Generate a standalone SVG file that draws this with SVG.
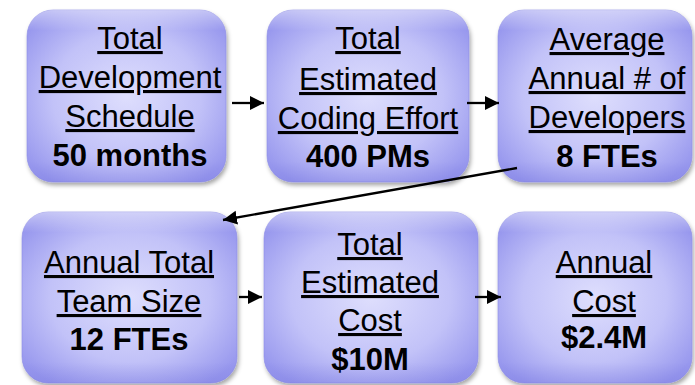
<svg xmlns="http://www.w3.org/2000/svg" width="695" height="385" viewBox="0 0 695 385">
<defs>
<radialGradient id="fill" cx="0.5" cy="0.5" r="0.62">
<stop offset="0" stop-color="#dedefd"/>
<stop offset="0.6" stop-color="#c2c2f8"/>
<stop offset="1" stop-color="#9898ee"/>
</radialGradient>
<linearGradient id="hl" x1="0" y1="0" x2="0" y2="1">
<stop offset="0" stop-color="#ffffff" stop-opacity="0.45"/>
<stop offset="0.12" stop-color="#ffffff" stop-opacity="0"/>
<stop offset="0.88" stop-color="#5a5ad0" stop-opacity="0"/>
<stop offset="1" stop-color="#5a5ad0" stop-opacity="0.18"/>
</linearGradient>
<filter id="sh" x="-10%" y="-10%" width="125%" height="125%">
<feDropShadow dx="1.5" dy="3" stdDeviation="2" flood-color="#000" flood-opacity="0.35"/>
</filter>
<marker id="ah" markerUnits="userSpaceOnUse" markerWidth="16" markerHeight="16" refX="14" refY="7" orient="auto">
<path d="M0,0 L14,7 L0,14 Z" fill="#000"/>
</marker>
</defs>
<style>
.box{fill:url(#fill);filter:url(#sh);stroke:#8d8de6;stroke-width:0.6}
.hl{fill:url(#hl)}
text{font-family:"Liberation Sans",Arial,sans-serif;font-size:31px;fill:#000;text-anchor:middle}
.u{text-decoration:underline}
.b{font-weight:bold}
.c{stroke:#000;stroke-width:2.3;fill:none;marker-end:url(#ah)}
</style>
<g id="n1">
<rect class="box" x="27" y="10" width="199" height="172" rx="26"/>
<rect class="hl" x="27" y="10" width="199" height="172" rx="26"/>
<text x="130" y="49" class="u">Total</text>
<text x="130" y="88" class="u">Development</text>
<text x="130" y="127" class="u">Schedule</text>
<text x="130" y="166" class="b">50 months</text>
</g>
<g id="n2">
<rect class="box" x="267" y="10" width="202" height="172" rx="26"/>
<rect class="hl" x="267" y="10" width="202" height="172" rx="26"/>
<text x="368" y="49" class="u">Total</text>
<text x="368" y="90" class="u">Estimated</text>
<text x="368" y="129" class="u">Coding Effort</text>
<text x="368" y="167" class="b">400 PMs</text>
</g>
<g id="n3">
<rect class="box" x="498" y="10" width="194" height="172" rx="26"/>
<rect class="hl" x="498" y="10" width="194" height="172" rx="26"/>
<text x="607" y="50" class="u">Average</text>
<text x="607" y="89" class="u">Annual # of</text>
<text x="607" y="128" class="u">Developers</text>
<text x="607" y="167" class="b">8 FTEs</text>
</g>
<g id="n4">
<rect class="box" x="22" y="212" width="215" height="171" rx="26"/>
<rect class="hl" x="22" y="212" width="215" height="171" rx="26"/>
<text x="129" y="273" class="u">Annual Total</text>
<text x="129" y="312" class="u">Team Size</text>
<text x="129" y="350" class="b">12 FTEs</text>
</g>
<g id="n5">
<rect class="box" x="264" y="212" width="214" height="171" rx="26"/>
<rect class="hl" x="264" y="212" width="214" height="171" rx="26"/>
<text x="370" y="255" class="u">Total</text>
<text x="370" y="293" class="u">Estimated</text>
<text x="370" y="331" class="u">Cost</text>
<text x="370" y="370" class="b">$10M</text>
</g>
<g id="n6">
<rect class="box" x="498" y="212" width="194" height="171" rx="26"/>
<rect class="hl" x="498" y="212" width="194" height="171" rx="26"/>
<text x="604" y="273" class="u">Annual</text>
<text x="604" y="312" class="u">Cost</text>
<text x="604" y="348" class="b">$2.4M</text>
</g>
<g id="connectors">
<line class="c" x1="232" y1="103" x2="264" y2="103"/>
<line class="c" x1="467" y1="103" x2="499" y2="103"/>
<line class="c" x1="517" y1="168" x2="223" y2="220"/>
<line class="c" x1="239" y1="297" x2="262" y2="297"/>
<line class="c" x1="475" y1="297" x2="501" y2="297"/>
</g>
</svg>
